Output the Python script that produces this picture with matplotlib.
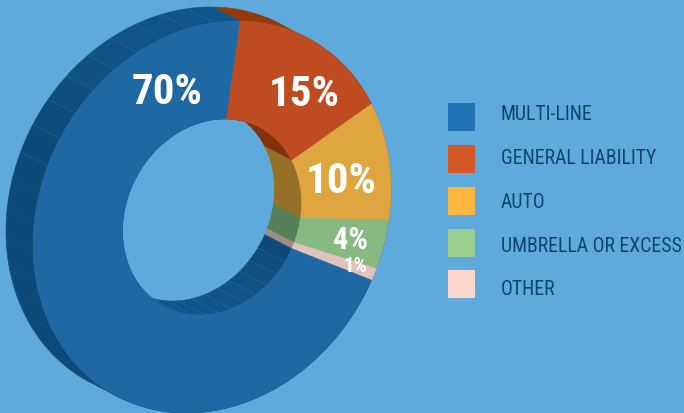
import numpy as np
import matplotlib
matplotlib.use('Agg')
import matplotlib.pyplot as plt
from matplotlib.patches import Wedge, Polygon, Rectangle
from matplotlib.transforms import Affine2D
from matplotlib.colors import to_rgb

# data
categories = ['MULTI-LINE', 'GENERAL LIABILITY', 'AUTO', 'UMBRELLA OR EXCESS', 'OTHER']
values = [70, 15, 10, 4, 1]
slice_order = [1, 2, 3, 4, 0]  # clockwise from the top, multi-line last
labels = ['70%', '15%', '10%', '4%', '1%']

# colours
bg = '#5FAADD'
front_cols = ['#1E69A3', '#BE4C20', '#DFA63F', '#88B981', '#DFC3B9']
wall_cols = ['#0E4A78', '#82320A', '#967026', '#578056', '#A08C85']
legend_cols = ['#2073B4', '#D55725', '#FDB73E', '#9ACE8E', '#FDD8CB']
text_col = '#0C4470'

# ellipse of the front face, in pixels
cx, cy = 212, 218
skew = Affine2D.from_values(179, -28, 0, -194, cx, cy)
depth = (-27, -14)
hole = 0.5
start = 9
facet = 8.4

font = ['Roboto Condensed', 'Archivo Narrow', 'Liberation Sans']

fig = plt.figure(figsize=(6.84, 4.14), dpi=100, facecolor=bg)
ax = fig.add_axes([0, 0, 1, 1])
ax.set_xlim(0, 684)
ax.set_ylim(414, 0)
ax.axis('off')


def arc(t0, t1, r):
    # t is degrees clockwise from the top
    t = np.radians(np.linspace(t0, t1, 12))
    return skew.transform(np.column_stack((r * np.sin(t), r * np.cos(t))))


def facing(t, r):
    # 1 when the wall faces straight up, outer and inner walls face opposite ways
    return np.cos(np.radians(t if r == 1 else t + 180))


def shade(col, t, r):
    # walls facing up are a little lighter
    k = 1 + 0.16 * max(0, facing(t, r) - 0.5) / 0.5
    return tuple(min(1, v * k) for v in to_rgb(col))


def draw_wall(t0, t1, r, col, lines):
    n = max(1, int(round((t1 - t0) / facet)))
    edges = np.linspace(t0, t1, n + 1)
    for a, b in zip(edges[:-1], edges[1:]):
        pts = arc(a, b, r)
        poly = np.vstack((pts, pts[::-1] + depth))
        c = shade(col, (a + b) / 2, r)
        ax.add_patch(Polygon(poly, closed=True, facecolor=c, edgecolor=c, lw=0.4, zorder=1))
        if lines and facing(a, r) > 0.3:
            ax.plot([pts[0][0], pts[0][0] + depth[0]], [pts[0][1], pts[0][1] + depth[1]],
                    color='#5C93BE', lw=0.3, alpha=0.4, zorder=2)


t = start
for i in slice_order:
    span = values[i] * 3.6
    draw_wall(t, t + span, 1, wall_cols[i], i == 0)
    draw_wall(t, t + span, hole, wall_cols[i], i == 0)
    # Wedge angles run counter clockwise from the x axis
    ax.add_patch(Wedge((0, 0), 1, 90 - t - span, 90 - t, width=1 - hole,
                       facecolor=front_cols[i], edgecolor=front_cols[i], lw=0.3,
                       transform=skew + ax.transData, zorder=3))
    t += span

# value labels
label_x = [167, 304, 341, 351, 355]
label_y = [92, 94, 182, 240, 267]
label_size = [31, 31, 31, 22, 15]
for s, x, y, size in zip(labels, label_x, label_y, label_size):
    ax.text(x, y, s, color='white', fontsize=size, fontweight='bold', family=font,
            ha='center', va='center', zorder=5)

# legend
box_y = [104, 146, 188, 230, 271]
text_y = [115, 159, 203, 247, 290]
for name, col, by, ty in zip(categories, legend_cols, box_y, text_y):
    ax.add_patch(Rectangle((448, by), 27, 28, facecolor=col, edgecolor='none', zorder=3))
    ax.text(501, ty, name, color=text_col, fontsize=14.2, family=font,
            ha='left', va='center', zorder=5)

fig.savefig('out.png', dpi=100, facecolor=bg)
